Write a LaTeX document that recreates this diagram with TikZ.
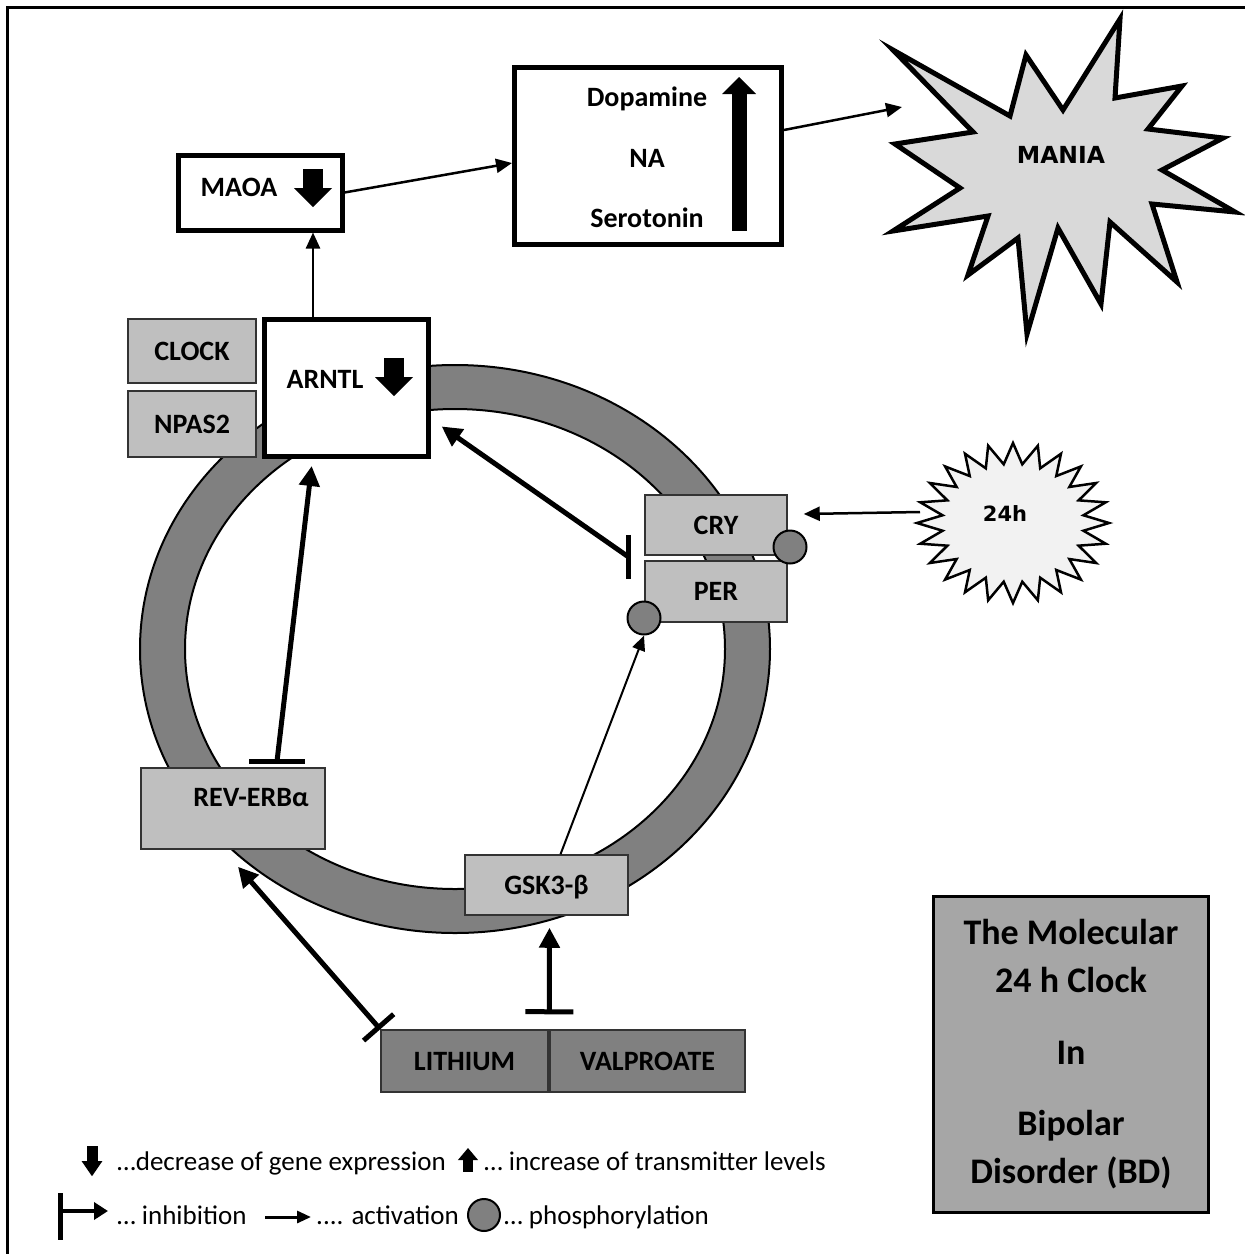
\documentclass[tikz,border=0pt]{standalone}
\usepackage{fontspec}
\setmainfont{Carlito}
\newfontfamily\djvfont{DejaVu Sans}
\usepackage{tikz}
\usetikzlibrary{arrows.meta}
\usetikzlibrary{positioning}
\definecolor{ringgray}{HTML}{808080}
\definecolor{boxgray}{HTML}{BFBFBF}
\definecolor{maniagray}{HTML}{D9D9D9}
\definecolor{hgray}{HTML}{F2F2F2}
\definecolor{titlegray}{HTML}{A6A6A6}

\begin{document}
\begin{tikzpicture}[x=1pt,y=-1pt,
  bigbox/.style={draw,line width=5pt,fill=white,inner sep=0pt},
  genebox/.style={draw=black!80,line width=1.5pt,fill=boxgray,inner sep=0pt,text height=18pt,text depth=0pt,font=\fontsize{28}{34}\selectfont\bfseries},
  drugbox/.style={genebox,fill=ringgray},
  lab/.style={inner sep=0pt,text height=18pt,text depth=0pt,font=\fontsize{28}{34}\selectfont\bfseries},
  legtext/.style={anchor=base west,inner sep=0pt,font=\fontsize{27}{30}\selectfont},
  act/.style={line width=2.5pt,-{Triangle[length=16pt,width=14pt]}},
  strongact/.style={line width=5pt,-{Triangle[length=20pt,width=20pt]}},
  inh/.style={line width=5pt},
  phos/.style={circle,draw,line width=2pt,fill=ringgray,minimum size=33pt,inner sep=0pt},
  downarr/.pic={\fill (-10,-19) rectangle (10,0); \fill (-19,0) -- (19,0) -- (0,19) -- cycle;}]
\useasboundingbox (0,0) rectangle (1245,1254);
\draw[line width=3pt] (7,1254) -- (7,7) -- (1245,7);

\draw[line width=2pt,fill=ringgray,even odd rule] (455,649) ellipse [x radius=315,y radius=284] (455,649) ellipse [x radius=270,y radius=240];

\node[bigbox,minimum width=164pt,minimum height=75pt] (maoa) at (260,192.5) {};
\node[lab] (maoatxt) at (239,187) {MAOA};
\pic at (313,188) {downarr};

\node[bigbox,minimum width=267pt,minimum height=177pt] (dopa) at (648,156) {};
\node[lab] (dopam) at (647,97) {Dopamine};
\node[lab] (na) at (647,158) {NA};
\node[lab] (sero) at (647,218) {Serotonin};
\fill (731.5,94) rectangle (746.5,231);
\fill (722,94) -- (756,94) -- (739,77) -- cycle;

\draw[line width=5pt,fill=maniagray] (893,50) -- (973,132) -- (895,144) -- (960,188) -- (893,231) -- (988,216) -- (968,275) -- (1018,238) -- (1027,334) -- (1058,228) -- (1101,304) -- (1110,222) -- (1177,282) -- (1152,204) -- (1235,212) -- (1162,170) -- (1223,138) -- (1148,129) -- (1182,86) -- (1115,98) -- (1120,19) -- (1063,110) -- (1026,55) -- (1010,116) -- cycle;
\node[font=\djvfont\bfseries\fontsize{23.5}{28}\selectfont] (mania) at (1061,155) {MANIA};
\coordinate (maniain) at (902,107);

\draw[line width=2.5pt,fill=hgray] plot[samples=49,domain=0:48,variable=\k] ({1013+(1-0.26*mod(\k,2))*96*cos(7.5*\k)},{523+(1-0.26*mod(\k,2))*80*sin(7.5*\k)}) -- cycle;
\node[font=\djvfont\bfseries\fontsize{21}{25}\selectfont] (clk) at (1005,514) {24h};
\coordinate (clkin) at (920,512);

\node[genebox,minimum width=128pt,minimum height=64pt] (clock) at (192,351) {CLOCK};
\node[genebox,minimum width=128pt,minimum height=66pt] (npas) at (192,424) {NPAS2};
\node[bigbox,minimum width=164pt,minimum height=137pt] (arntl) at (346.5,388) {};
\node[lab] (arntltxt) at (325,379) {ARNTL};
\pic at (394,377) {downarr};

\node[genebox,minimum width=142pt,minimum height=60pt] (cry) at (716,525) {CRY};
\node[genebox,minimum width=142pt,minimum height=61pt] (per) at (716,591.5) {PER};
\node[phos] (cryp) at (790,547) {};
\node[phos] (perp) at (644,618) {};

\node[genebox,minimum width=184pt,minimum height=81pt] (rev) at (233,808.5) {};
\node[lab] (revtxt) at (251,797) {REV-ERBα};
\node[genebox,minimum width=163pt,minimum height=60pt] (gsk) at (546.5,885) {GSK3-β};
\node[drugbox,minimum width=167pt,minimum height=62pt] (lith) at (464.5,1061) {LITHIUM};
\node[drugbox,minimum width=195pt,minimum height=62pt] (valp) at (647.5,1061) {VALPROATE};

\node[draw,line width=3pt,fill=titlegray,minimum width=275pt,minimum height=316pt,align=center,font=\fontsize{36}{48}\selectfont\bfseries] (title) at (1071,1054.5) {The Molecular\\24 h Clock\\[24pt]In\\[23pt]Bipolar\\Disorder (BD)};

\coordinate (crybar) at ([xshift=-16pt,yshift=-1pt]cry.south west);
\coordinate (revbar) at ([xshift=44pt,yshift=6pt]rev.north);

\draw[act] (maoa.east) -- ([yshift=-7pt]dopa.west);
\draw[act] ([yshift=26pt]dopa.east) -- (maniain);
\draw[act] ([xshift=-33.5pt]arntl.north) -- ([xshift=53pt]maoa.south);
\draw[strongact,shorten >=13pt] (crybar) -- ([yshift=-31pt]arntl.east);
\draw[inh] ([yshift=22pt]crybar) -- ([yshift=-22pt]crybar);
\draw[strongact,shorten >=7pt] (revbar) -- ([xshift=-34pt]arntl.south);
\draw[inh] ([xshift=-28pt]revbar) -- ([xshift=28pt]revbar);
\draw[{Bar[width=40pt]}-{Triangle[length=20pt,width=20pt]},line width=5pt] (lith.north west) -- ([xshift=5pt,yshift=-17pt]rev.south);
\draw[{Bar[width=48pt]}-{Triangle[length=20pt,width=20pt]},line width=5pt] ([yshift=15pt]valp.north west) -- ([xshift=3pt,yshift=-12pt]gsk.south);
\draw[line width=2pt,-{Triangle[length=15pt,width=13pt]}] ([xshift=14pt]gsk.north) -- (perp.south);
\draw[act] (clkin) -- ([xshift=16pt,yshift=11pt]cry.east);

\pic[xscale=0.55,yscale=0.8] at (92,1161) {downarr};
\node[legtext] (legdec) at (117,1170) {…decrease of gene expression};
\pic[xscale=0.53,yscale=-0.63] at (468,1160) {downarr};
\node[legtext] (leginc) at (484,1170) {… increase of transmitter levels};
\draw[line width=5pt] (60,1193) -- (60,1240);
\draw[line width=4pt,-{Triangle[length=14pt,width=17pt]}] (60,1211) -- (108,1211);
\node[legtext] (leginh) at (117,1224) {… inhibition};
\draw[line width=3pt,-{Triangle[length=14pt,width=12pt]}] (265,1217) -- (311,1217);
\node[legtext] (legact) at (316,1224) {.... activation};
\node[phos,minimum size=32pt] (legpho) at (484,1215) {};
\node[legtext] (legphotxt) at (504,1224) {… phosphorylation};
\end{tikzpicture}
\end{document}
